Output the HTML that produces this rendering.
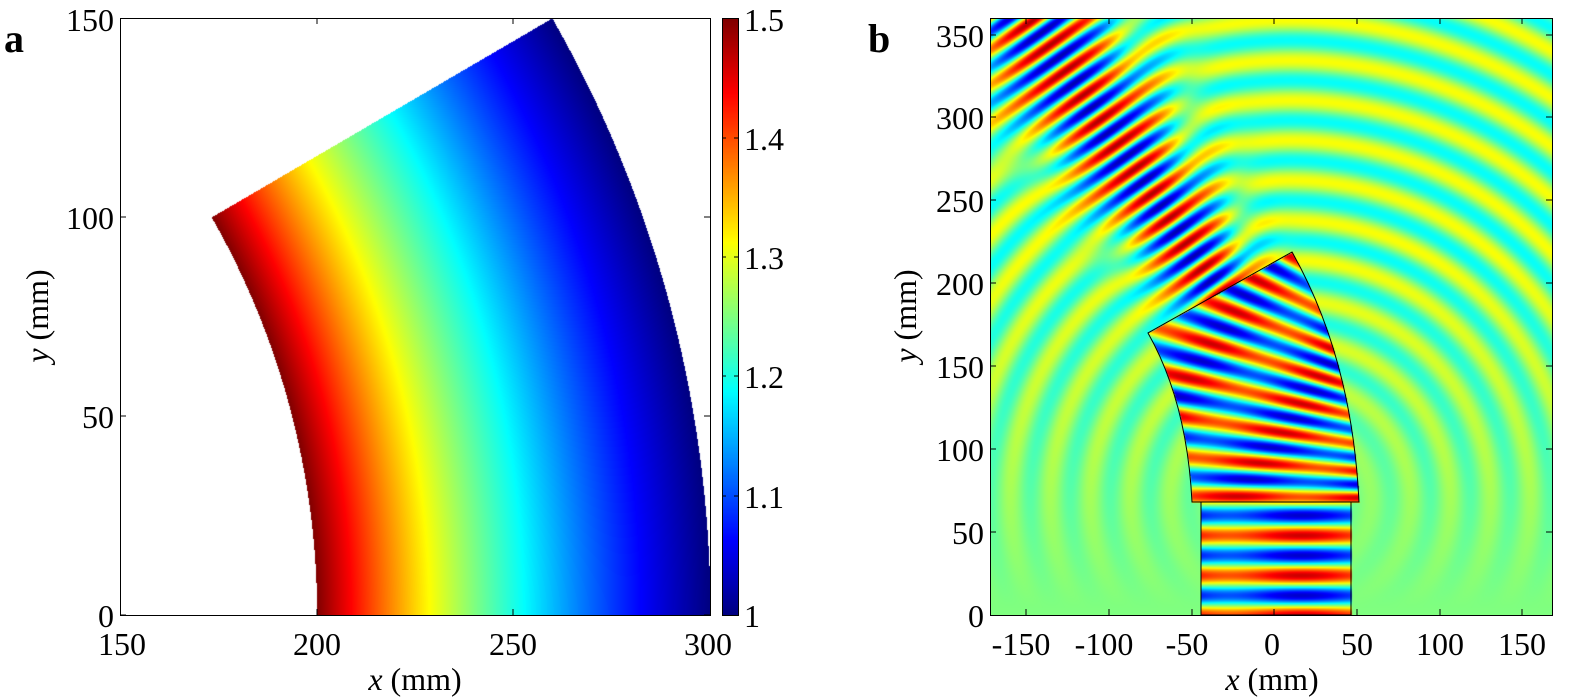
<!DOCTYPE html>
<html><head><meta charset="utf-8"><style>
html,body{margin:0;padding:0;background:#fff;width:1575px;height:698px;overflow:hidden}
canvas{position:absolute}
svg{position:absolute;left:0;top:0}
text{font-family:"Liberation Serif",serif;font-size:32px;fill:#000}
</style></head><body>
<canvas id="ca" width="590" height="597" style="left:120px;top:18px"></canvas>
<canvas id="cb" width="562" height="597" style="left:990px;top:18px"></canvas>
<canvas id="cc" width="16" height="597" style="left:722px;top:18px"></canvas>
<svg width="1575" height="698">
<g fill="none" stroke="#000" stroke-width="1">
<rect x="120.5" y="18.5" width="590" height="597"/>
<path d="M120 615h6M120 416h6M120 217h6M704 615h6M704 416h6M704 217h6M317 615v-6M513 615v-6M317 18v6M513 18v6"/>
<rect x="722.5" y="18.5" width="16" height="597"/>
<path d="M738 496h-4M738 376h-4M738 257h-4M738 138h-4M722 496h4M722 376h4M722 257h4M722 138h4"/>
<rect x="990.5" y="18.5" width="562" height="597"/>
<path d="M1026 615v-6M1109 615v-6M1192 615v-6M1274 615v-6M1357 615v-6M1440 615v-6M1522 615v-6M1026 18v6M1109 18v6M1192 18v6M1274 18v6M1357 18v6M1440 18v6M1522 18v6"/>
<path d="M990 532h6M990 449h6M990 366h6M990 283h6M990 200h6M990 117h6M990 35h6M1552 532h-6M1552 449h-6M1552 366h-6M1552 283h-6M1552 200h-6M1552 117h-6M1552 35h-6"/>
<path d="M1192 502Q1187 402 1148 333L1292 252Q1352 358 1359 502Z" stroke-width="1"/>
<rect x="1201" y="502" width="150" height="113" stroke-width="1"/>
</g>
<text x="4" y="52" style="font-weight:bold;font-size:40px">a</text>
<text x="868" y="52" style="font-weight:bold;font-size:40px">b</text>
<g text-anchor="end">
<text x="114" y="627">0</text><text x="114" y="428">50</text><text x="114" y="229">100</text><text x="114" y="31">150</text>
<text x="984" y="627">0</text><text x="984" y="544">50</text><text x="984" y="461">100</text><text x="984" y="378">150</text><text x="984" y="295">200</text><text x="984" y="212">250</text><text x="984" y="129">300</text><text x="984" y="47">350</text>
</g>
<g text-anchor="middle">
<text x="122" y="655">150</text><text x="317" y="655">200</text><text x="513" y="655">250</text><text x="708" y="655">300</text>
<text x="1021" y="655">-150</text><text x="1104" y="655">-100</text><text x="1187" y="655">-50</text><text x="1272" y="655">0</text><text x="1357" y="655">50</text><text x="1440" y="655">100</text><text x="1522" y="655">150</text>
<text x="415" y="690"><tspan font-style="italic">x</tspan> (mm)</text>
<text x="1272" y="690"><tspan font-style="italic">x</tspan> (mm)</text>
<text transform="translate(48,316) rotate(-90)"><tspan font-style="italic">y</tspan> (mm)</text>
<text transform="translate(916,316) rotate(-90)"><tspan font-style="italic">y</tspan> (mm)</text>
</g>
<g>
<text x="744" y="627">1</text><text x="744" y="508">1.1</text><text x="744" y="388">1.2</text><text x="744" y="269">1.3</text><text x="744" y="150">1.4</text><text x="744" y="31">1.5</text>
</g>
</svg>
<script>
function cl(v){return v<0?0:v>1?1:v}
function jet(t){t=cl(t);return[cl(1.5-Math.abs(4*t-3))*255,cl(1.5-Math.abs(4*t-2))*255,cl(1.5-Math.abs(4*t-1))*255]}
(function(){var c=document.getElementById('ca'),x=c.getContext('2d'),W=590,H=597,im=x.createImageData(W,H),d=im.data;
for(var j=0;j<H;j++)for(var i=0;i<W;i++){var X=150+i/W*150,Y=150-j/H*150;var r=Math.sqrt(X*X+Y*Y),a=Math.atan2(Y,X);var k=(j*W+i)*4;
if(r>=200&&r<=300&&a<=Math.PI/6+1e-4&&a>=0){var n=300/r,col=jet((n-1)/0.5);d[k]=col[0];d[k+1]=col[1];d[k+2]=col[2];d[k+3]=255}else{d[k]=d[k+1]=d[k+2]=255;d[k+3]=255}}
x.putImageData(im,0,0);
var c2=document.getElementById('cc').getContext('2d');for(var j=0;j<597;j++){var col=jet(1-j/597);c2.fillStyle='rgb('+(col[0]|0)+','+(col[1]|0)+','+(col[2]|0)+')';c2.fillRect(0,j,16,1)}})();
(function(){var c=document.getElementById('cb'),x=c.getContext('2d'),W=562,H=597,im=x.createImageData(W,H),d=im.data;
var bend=new Path2D('M202 484Q197 384 158 315L302 234Q362 340 369 484Z');
var P=Math.PI*2;
for(var j=0;j<H;j++)for(var i=0;i<W;i++){var px=i+990,py=j+18,v=0;
if(px>=1201&&px<=1351&&py>=502){v=0.85*Math.cos(P*(615-py)/40)*(0.85+0.15*Math.cos(px/23))}
else if(x.isPointInPath(bend,i,j)){var th=Math.atan2(502-py,1736-px);v=0.85*Math.cos(P*(2.825+th/(0.513/7.3)))*(0.85+0.15*Math.cos(px/21+py/30))}
else{var dx=px-1290,dy=py-500,r=Math.sqrt(dx*dx+dy*dy);var amp=0.24*cl((520-py)/350+0.25)*cl(r/140);v=amp*Math.cos(P*r/40);
var ex=px-1220,ey=py-292,s=ex*-0.57+ey*-0.82,w=ex*0.82+ey*-0.57;if(s>-30){var sg=44+0.1*s;var g=Math.exp(-(w*w)/(sg*sg))*cl((s+30)/30);v=v*(1-g)+0.9*g*Math.cos(P*s/30)}}
var col=jet(0.5+0.5*v),k=(j*W+i)*4;d[k]=col[0];d[k+1]=col[1];d[k+2]=col[2];d[k+3]=255}
x.putImageData(im,0,0)})();
</script>
</body></html>
